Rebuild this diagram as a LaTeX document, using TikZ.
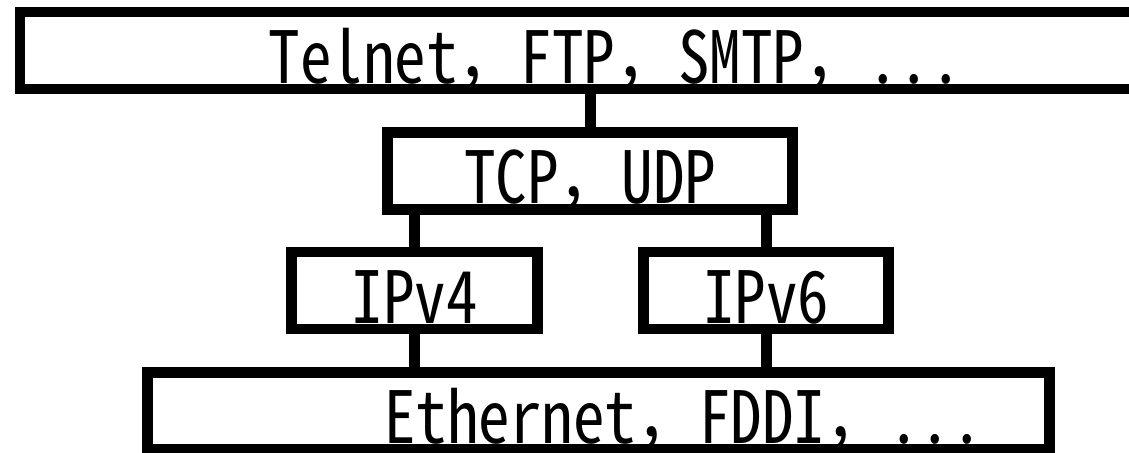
\documentclass[tikz,border=0pt]{standalone}
\usepackage{fontspec}
\newfontfamily\jpfont[RawFeature=+hwid, FakeStretch=0.875]{Noto Sans CJK JP}
\newfontfamily\jpwide[FakeStretch=0.875]{Noto Sans CJK JP}
\newcommand{\jcomma}{{\jpwide ，}}
\usetikzlibrary{positioning}

\tikzset{
    layer/.style={draw, line width=5.25pt, rectangle, inner xsep=0pt, inner ysep=0pt,
        text height=35.5pt, text depth=3pt, font=\fontsize{36}{40}\selectfont\jpfont},
    link/.style={line width=5.5pt}
}

\begin{document}
\begin{tikzpicture}[x=0.5pt,y=0.5pt]
    \useasboundingbox (0,0) rectangle (1129,452);

    \node[layer, minimum width=595.25pt] (app) at (615,401.5) {Telnet\jcomma FTP\jcomma SMTP\jcomma ...};
    \node[layer, minimum width=202.5pt] (tcp) at (590,281.25) {TCP\jcomma UDP};
    \node[layer, minimum width=123pt] (ipv4) at (414.5,161.5) {IPv4};
    \node[layer, minimum width=122.5pt] (ipv6) at (766,161.5) {IPv6};
    \node[layer, minimum width=451pt] (eth) at (598.5,41) {\hspace*{85pt}Ethernet\jcomma FDDI\jcomma ...};

    \draw[link] (tcp.north) -- (app.south -| tcp.north);
    \draw[link] (ipv4.north) -- (tcp.south -| ipv4.north);
    \draw[link] (ipv6.north) -- (tcp.south -| ipv6.north);
    \draw[link] (ipv4.south) -- (eth.north -| ipv4.south);
    \draw[link] (ipv6.south) -- (eth.north -| ipv6.south);

\end{tikzpicture}
\end{document}
